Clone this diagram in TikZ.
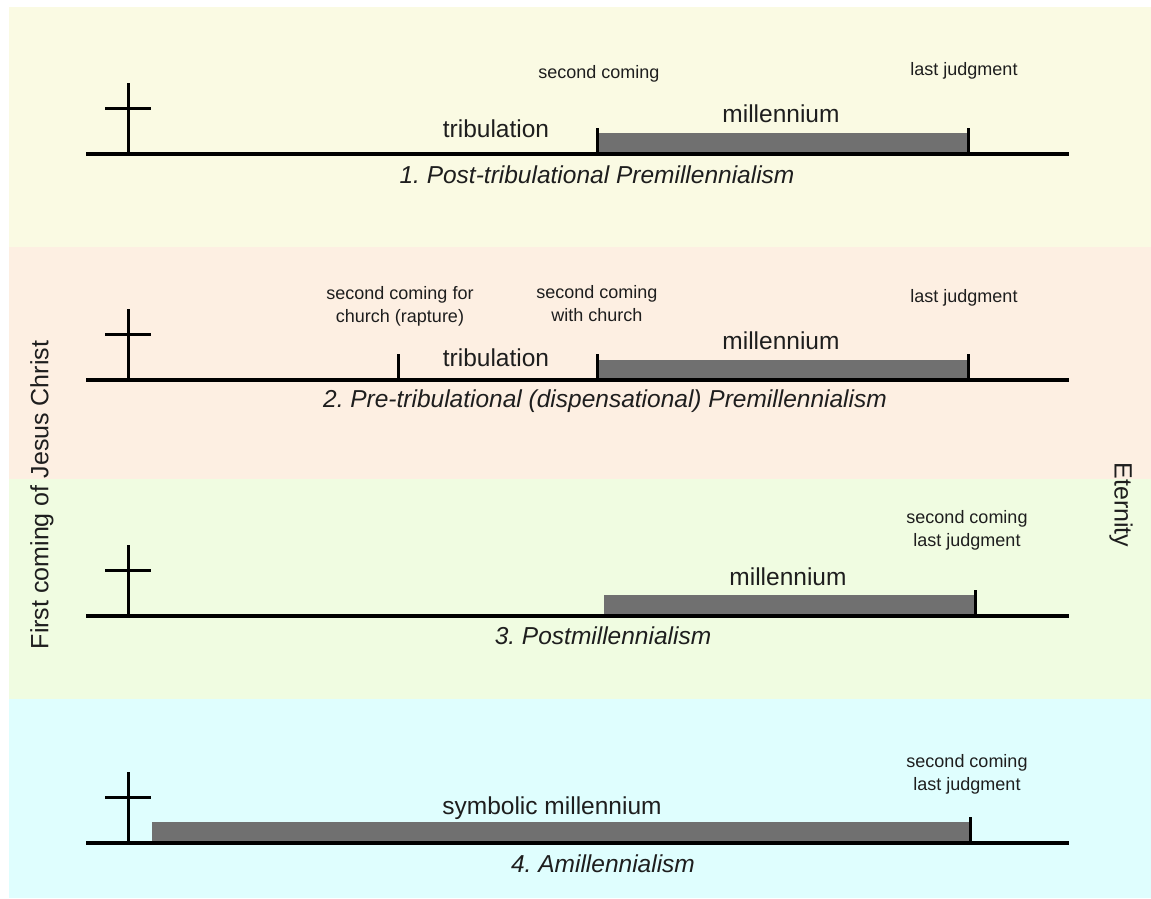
\documentclass[tikz,border=0pt]{standalone}
\usepackage{fontspec}
\setmainfont{Liberation Sans}
\definecolor{bandA}{RGB}{250,250,227}
\definecolor{bandB}{RGB}{253,239,226}
\definecolor{bandC}{RGB}{240,252,225}
\definecolor{bandD}{RGB}{223,254,254}
\definecolor{bargray}{RGB}{112,112,112}
\definecolor{txt}{RGB}{30,30,30}
\frenchspacing
\begin{document}
\begin{tikzpicture}[x=1pt,y=-1pt,
  big/.style={font=\fontsize{24.5}{28}\selectfont, text=txt, anchor=base, inner sep=0pt},
  small/.style={font=\fontsize{18}{23}\selectfont, text=txt, anchor=base, inner sep=0pt},
  ttl/.style={font=\fontsize{24.5}{28}\selectfont\itshape, text=txt, anchor=base, inner sep=0pt},
  side/.style={font=\fontsize{25}{28}\selectfont, text=txt, anchor=center, inner sep=0pt},
  axisline/.style={line width=3.2pt, draw=black},
  tickline/.style={line width=3pt, draw=black},
  crossline/.style={line width=3pt, draw=black},
  barfill/.style={fill=bargray, draw=none},
  crossmark/.pic={
    \draw[crossline] (0,0) -- (0,-71);
    \draw[crossline] (-23,-46) -- (23,-46);
  }]
\useasboundingbox (0,0) rectangle (1151,898);
\fill[white] (0,0) rectangle (1151,898);
% bands
\fill[bandA] (9,7) rectangle (1151,247);
\fill[bandB] (9,247) rectangle (1151,479);
\fill[bandC] (9,479) rectangle (1151,699);
\fill[bandD] (9,699) rectangle (1151,898);

% ---------- 1 ----------
\fill[barfill] (597,133) rectangle (968,154);
\draw[axisline] (86,154) coordinate (a1s) -- (1069,154) coordinate (a1e);
\draw[tickline] (597,154) -- (597,128);
\draw[tickline] (968,154) -- (968,128);
\pic at (128,154) {crossmark};
\node[small] (sc1) at (599,78) {second coming};
\node[small] (lj1) at (964,75) {last judgment};
\node[big] (tr1) at (496,137) {tribulation};
\node[big] (mi1) at (781,122) {millennium};
\node[ttl] (t1) at (597,183) {1. Post-tribulational Premillennialism};

% ---------- 2 ----------
\fill[barfill] (597,360) rectangle (968,380);
\draw[axisline] (86,380) coordinate (a2s) -- (1069,380) coordinate (a2e);
\draw[tickline] (398,380) -- (398,354);
\draw[tickline] (597,380) -- (597,354);
\draw[tickline] (968,380) -- (968,354);
\pic at (128,380) {crossmark};
\node[small] (sf2a) at (400,299) {second coming for};
\node[small] (sf2b) at (400,322) {church (rapture)};
\node[small] (sw2a) at (597,298) {second coming};
\node[small] (sw2b) at (597,321) {with church};
\node[small] (lj2) at (964,302) {last judgment};
\node[big] (tr2) at (496,366) {tribulation};
\node[big] (mi2) at (781,349) {millennium};
\node[ttl] (t2) at (605,407) {2. Pre-tribulational (dispensational) Premillennialism};

% ---------- 3 ----------
\fill[barfill] (604,595) rectangle (975,616);
\draw[axisline] (86,616) coordinate (a3s) -- (1069,616) coordinate (a3e);
\draw[tickline] (975,616) -- (975,590);
\pic at (128,616) {crossmark};
\node[small] (sc3) at (967,523) {second coming};
\node[small] (lj3) at (967,546) {last judgment};
\node[big] (mi3) at (788,585) {millennium};
\node[ttl] (t3) at (603,644) {3. Postmillennialism};

% ---------- 4 ----------
\fill[barfill] (152,822) rectangle (970,843);
\draw[axisline] (86,843) coordinate (a4s) -- (1069,843) coordinate (a4e);
\draw[tickline] (970,843) -- (970,817);
\pic at (128,843) {crossmark};
\node[small] (sc4) at (967,767) {second coming};
\node[small] (lj4) at (967,790) {last judgment};
\node[big] (sm4) at (552,814) {symbolic millennium};
\node[ttl] (t4) at (603,872) {4. Amillennialism};

% side labels
\node[side, rotate=90] (first) at (42,495) {First coming of Jesus Christ};
\node[side, rotate=-90] (eter) at (1121,505) {Eternity};
\end{tikzpicture}
\end{document}
